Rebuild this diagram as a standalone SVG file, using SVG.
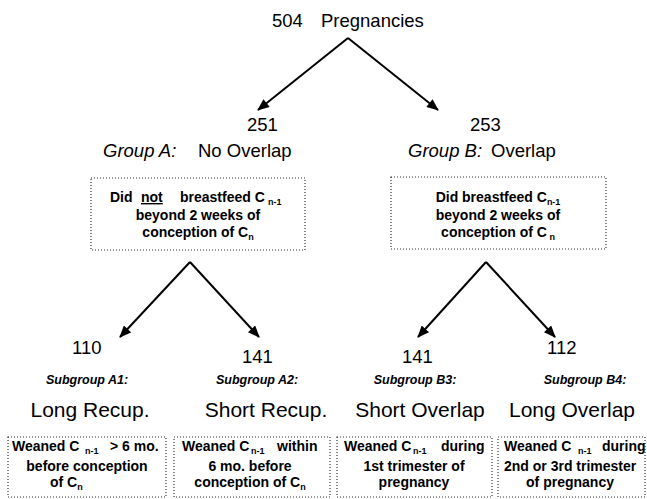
<svg xmlns="http://www.w3.org/2000/svg" width="647" height="499" viewBox="0 0 647 499">
<defs>
<marker id="ah" viewBox="0 0 12 10" refX="11" refY="5" markerWidth="13" markerHeight="10" markerUnits="userSpaceOnUse" orient="auto">
<path d="M0,0 L12,5 L0,10 z" fill="#000"/>
</marker>
<style>
text{font-family:"Liberation Sans",Arial,sans-serif;fill:#000}
.n{font-size:18.5px}
.i{font-style:italic}
.sg{font-size:12.5px;font-style:italic;font-weight:bold}
.big{font-size:21px}
.bt{font-size:14px;font-weight:bold}
.sub{font-size:9px;font-weight:bold}
.box{fill:none;stroke:#333;stroke-width:1.2;stroke-dasharray:1 2}
.c{stroke:#000;stroke-width:2;fill:none}
</style>
</defs>
<rect width="647" height="499" fill="#fff"/>
<g id="connectors">
<line class="c" x1="348" y1="38" x2="258" y2="110" marker-end="url(#ah)"/>
<line class="c" x1="348" y1="38" x2="438" y2="110" marker-end="url(#ah)"/>
<line class="c" x1="190" y1="262" x2="120" y2="337" marker-end="url(#ah)"/>
<line class="c" x1="190" y1="262" x2="259" y2="337" marker-end="url(#ah)"/>
<line class="c" x1="486" y1="262" x2="418" y2="337" marker-end="url(#ah)"/>
<line class="c" x1="486" y1="262" x2="555" y2="337" marker-end="url(#ah)"/>
</g>
<g id="root">
<text class="n" x="272" y="27">504</text>
<text class="n" x="321" y="27">Pregnancies</text>
</g>
<g id="groupA">
<text class="n" x="247" y="131">251</text>
<text class="n i" x="103" y="157">Group A:</text>
<text class="n" x="198" y="157">No Overlap</text>
</g>
<g id="groupB">
<text class="n" x="470" y="131">253</text>
<text class="n i" x="408" y="157">Group B:</text>
<text class="n" x="491" y="157">Overlap</text>
</g>
<g id="boxA">
<rect class="box" x="91" y="178" width="214" height="72"/>
<text class="bt" y="202"><tspan x="110">Did</tspan><tspan x="141" text-decoration="underline">not</tspan><tspan x="180">breastfeed C</tspan><tspan class="sub" x="268" dy="3">n-1</tspan></text>
<text class="bt" x="198" y="220" text-anchor="middle">beyond 2 weeks of</text>
<text class="bt" x="198" y="237" text-anchor="middle">conception of C<tspan class="sub" dy="3">n</tspan></text>
</g>
<g id="boxB">
<rect class="box" x="391" y="177" width="215" height="72"/>
<text class="bt" x="498" y="202" text-anchor="middle">Did breastfeed C<tspan class="sub" dy="3">n-1</tspan></text>
<text class="bt" x="498" y="220" text-anchor="middle">beyond 2 weeks of</text>
<text class="bt" x="498" y="237" text-anchor="middle">conception of C<tspan class="sub" dy="3"> n</tspan></text>
</g>
<g id="subA1">
<text class="n" x="72" y="354">110</text>
<text class="sg" x="87" y="384" text-anchor="middle">Subgroup A1:</text>
<text class="big" x="90" y="417" text-anchor="middle">Long Recup.</text>
<rect class="box" x="8" y="437" width="158" height="60"/>
<text class="bt" y="451"><tspan x="12">Weaned C</tspan><tspan class="sub" x="85" dy="3">n-1</tspan><tspan x="110" dy="-3">&gt; 6 mo.</tspan></text>
<text class="bt" x="87" y="471" text-anchor="middle">before conception</text>
<text class="bt" x="50" y="487">of C<tspan class="sub" dy="3">n</tspan></text>
</g>
<g id="subA2">
<text class="n" x="242" y="363">141</text>
<text class="sg" x="257" y="384" text-anchor="middle">Subgroup A2:</text>
<text class="big" x="266" y="417" text-anchor="middle">Short Recup.</text>
<rect class="box" x="174" y="437" width="156" height="60"/>
<text class="bt" y="451"><tspan x="182">Weaned C</tspan><tspan class="sub" x="251" dy="3">n-1</tspan><tspan x="277" dy="-3">within</tspan></text>
<text class="bt" x="250" y="471" text-anchor="middle">6 mo. before</text>
<text class="bt" x="250" y="487" text-anchor="middle">conception of C<tspan class="sub" dy="3">n</tspan></text>
</g>
<g id="subB3">
<text class="n" x="402" y="363">141</text>
<text class="sg" x="415" y="384" text-anchor="middle">Subgroup B3:</text>
<text class="big" x="420" y="417" text-anchor="middle">Short Overlap</text>
<rect class="box" x="337" y="437" width="155" height="60"/>
<text class="bt" y="451"><tspan x="344">Weaned C</tspan><tspan class="sub" x="413" dy="3">n-1</tspan><tspan x="441" dy="-3">during</tspan></text>
<text class="bt" x="414" y="471" text-anchor="middle">1st trimester of</text>
<text class="bt" x="414" y="487" text-anchor="middle">pregnancy</text>
</g>
<g id="subB4">
<text class="n" x="547" y="354">112</text>
<text class="sg" x="585" y="384" text-anchor="middle">Subgroup B4:</text>
<text class="big" x="572" y="417" text-anchor="middle">Long Overlap</text>
<rect class="box" x="498" y="437" width="147" height="60"/>
<text class="bt" y="451"><tspan x="504">Weaned C</tspan><tspan class="sub" x="578" dy="3">n-1</tspan><tspan x="602" dy="-3">during</tspan></text>
<text class="bt" x="504" y="471">2nd or 3rd trimester</text>
<text class="bt" x="570" y="487" text-anchor="middle">of pregnancy</text>
</g>
</svg>
